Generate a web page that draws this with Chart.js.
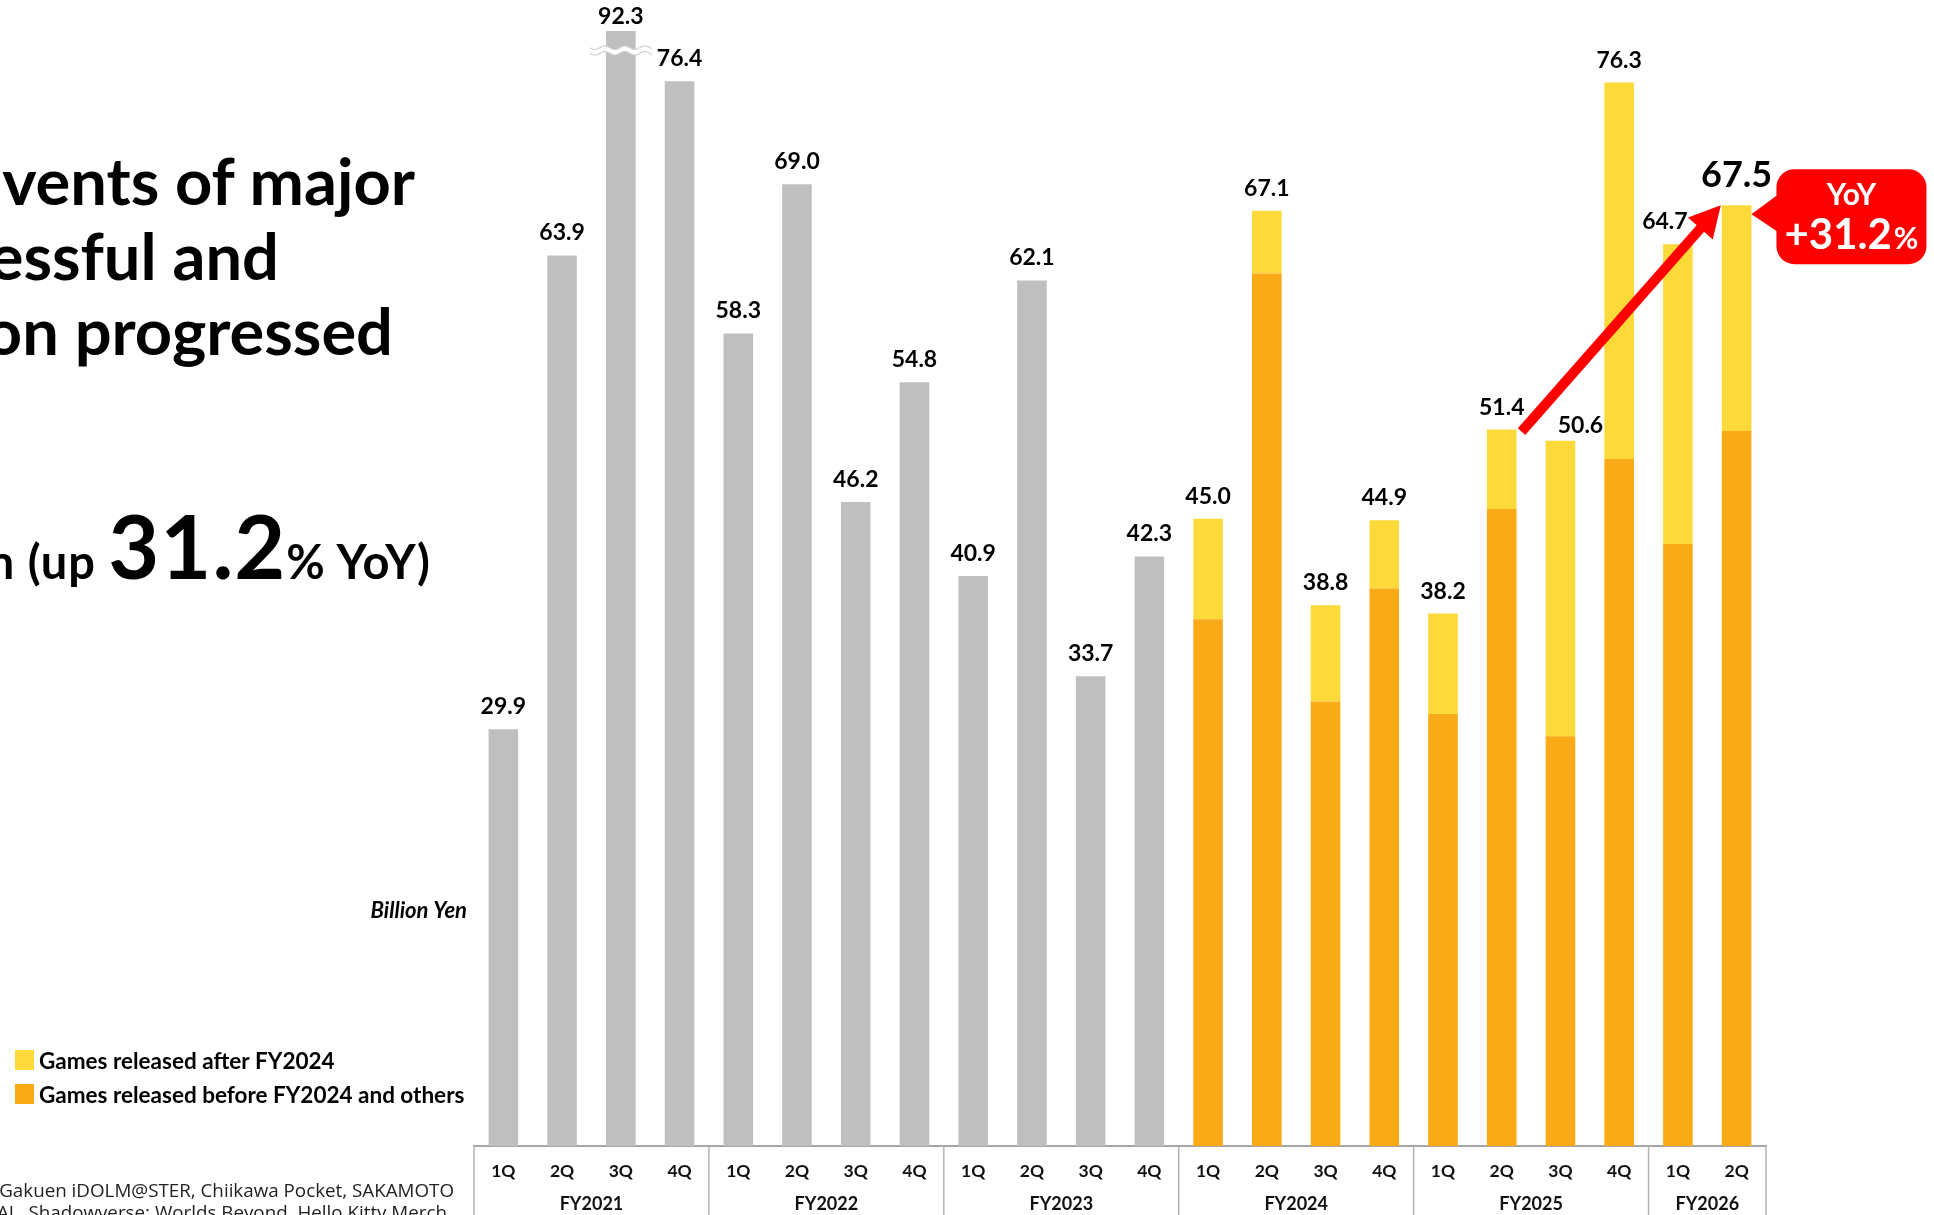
<!DOCTYPE html>
<html>
<head>
<meta charset="utf-8">
<title>Quarterly sales</title>
<script src="https://cdn.jsdelivr.net/npm/chart.js@4.4.1/dist/chart.umd.min.js"></script>
<style>
  html, body { margin: 0; padding: 0; background: #fff; overflow: hidden; }
  #wrap { position: relative; width: 1934px; height: 1215px; }
  #salesChart { position: absolute; left: 0; top: 0; }
  .head {
    position: absolute;
    white-space: nowrap;
    font-family: Lato, sans-serif;
    font-weight: 700;
    color: #000;
    text-align: right;
  }
  .big-line { font-size: 65px; line-height: 65px; right: 1519px; }
  .yoy-line { font-size: 88px; line-height: 88px; right: 1503px; top: 501px; letter-spacing: 1px; }
  .yoy-line .sm { font-size: 47px; letter-spacing: 1px; }
  .note {
    position: absolute;
    white-space: nowrap;
    font-family: "Open Sans", sans-serif;
    font-size: 18.8px;
    line-height: 22px;
    color: #222;
    text-align: right;
  }
</style>
</head>
<body>
<div id="wrap">
  <canvas id="salesChart"></canvas>
  <div class="head big-line" style="top:148px">vents of major</div>
  <div class="head big-line" style="top:223px;right:1655px">essful and</div>
  <div class="head big-line" style="top:298px;right:1541px">on progressed</div>
  <div class="head yoy-line"><span class="sm">n (up </span>31.2<span class="sm">% YoY)</span></div>
  <div class="note" style="top:1179px;right:1480px">Gakuen iDOLM@STER, Chiikawa Pocket, SAKAMOTO</div>
  <div class="note" style="top:1201px;right:1487px">IAL, Shadowverse: Worlds Beyond, Hello Kitty Merch</div>
</div>
<script>
const quarters = ["1Q", "2Q", "3Q", "4Q", "1Q", "2Q", "3Q", "4Q", "1Q", "2Q", "3Q",
  "4Q", "1Q", "2Q", "3Q", "4Q", "1Q", "2Q", "3Q", "4Q", "1Q", "2Q"];
const fiscalYears = ["FY2021", "FY2022", "FY2023", "FY2024", "FY2025", "FY2026"];
const quartersPerYear = [4, 4, 4, 4, 4, 2];

// total sales per quarter, billion yen
const totalSales = [29.9, 63.9, 92.3, 76.4, 58.3, 69.0, 46.2, 54.8, 40.9, 62.1, 33.7,
  42.3, 45.0, 67.1, 38.8, 44.9, 38.2, 51.4, 50.6, 76.3, 64.7, 67.5];
// part coming from games released before FY2024 (split starts in FY2024)
const olderTitles = [null, null, null, null, null, null, null, null, null, null, null,
  null, 37.8, 62.6, 31.9, 40.0, 31.0, 45.7, 29.4, 49.3, 43.2, 51.3];

const GRAY = "#bfbfbf";
const YELLOW = "#fdd93a";
const ORANGE = "#fbaa17";
const RED = "#ff0000";

const unsplit = totalSales.map((v, i) => (olderTitles[i] == null ? v : null));
const newerTitles = totalSales.map((v, i) =>
  olderTitles[i] == null ? null : Math.round((v - olderTitles[i]) * 10) / 10);

// a few labels sit off their usual spot so the arrow doesn't cover them
const labelNudge = { 18: { dx: 20, dy: 8 }, 20: { dx: -13, dy: 15 } };

function stackTop(chart, i) {
  const ds = olderTitles[i] == null ? 0 : 2;
  return chart.getDatasetMeta(ds).data[i];
}

function wavePath(ctx, x0, x1, yc, amp, period) {
  ctx.beginPath();
  for (let px = x0; px <= x1; px += 1) {
    const py = yc + amp * Math.sin(((px - x0) / period) * 2 * Math.PI);
    if (px === x0) ctx.moveTo(px, py);
    else ctx.lineTo(px, py);
  }
}

function roundRect(ctx, x, y, w, h, r) {
  ctx.beginPath();
  ctx.moveTo(x + r, y);
  ctx.arcTo(x + w, y, x + w, y + h, r);
  ctx.arcTo(x + w, y + h, x, y + h, r);
  ctx.arcTo(x, y + h, x, y, r);
  ctx.arcTo(x, y, x + w, y, r);
  ctx.closePath();
}

const extras = {
  id: "extras",
  afterDatasetsDraw(chart) {
    const { ctx, chartArea, scales } = chart;
    const x = scales.x;
    ctx.save();

    // break mark on the bar that runs past the top
    const tall = stackTop(chart, 2);
    const wy = chartArea.top + 19.5;
    ctx.lineWidth = 5;
    ctx.strokeStyle = "#fff";
    wavePath(ctx, tall.x - 31, tall.x + 31, wy, 1.8, 20);
    ctx.stroke();
    ctx.lineWidth = 1.2;
    ctx.strokeStyle = "#cfcfcf";
    wavePath(ctx, tall.x - 31, tall.x + 31, wy - 2.8, 1.8, 20);
    ctx.stroke();
    wavePath(ctx, tall.x - 31, tall.x + 31, wy + 2.8, 1.8, 20);
    ctx.stroke();

    // value labels above each stack
    ctx.fillStyle = "#000";
    ctx.textAlign = "center";
    ctx.textBaseline = "alphabetic";
    const last = totalSales.length - 1;
    totalSales.forEach((v, i) => {
      const bar = stackTop(chart, i);
      const top = Math.max(bar.y, chartArea.top + 8);
      const big = i === last;
      const nudge = labelNudge[i] || { dx: 0, dy: big ? 18 : 15 };
      ctx.font = big ? "700 36px Lato" : "700 23px Lato";
      ctx.fillText(v.toFixed(1), bar.x + nudge.dx, top - nudge.dy);
    });

    // year-over-year arrow
    const from = stackTop(chart, 17);
    const to = stackTop(chart, last);
    const tail = { x: from.x + from.width / 2 + 5, y: from.y + 2 };
    const tip = { x: to.x - to.width / 2 - 1, y: to.y };
    const len = Math.hypot(tip.x - tail.x, tip.y - tail.y);
    const ux = (tip.x - tail.x) / len, uy = (tip.y - tail.y) / len;
    const headLen = 31, headHalf = 16.5;
    const bx = tip.x - ux * headLen, by = tip.y - uy * headLen;
    ctx.strokeStyle = RED;
    ctx.lineWidth = 10;
    ctx.lineCap = "butt";
    ctx.beginPath();
    ctx.moveTo(tail.x, tail.y);
    ctx.lineTo(bx + ux * 2, by + uy * 2);
    ctx.stroke();
    ctx.fillStyle = RED;
    ctx.beginPath();
    ctx.moveTo(tip.x, tip.y);
    ctx.lineTo(bx - uy * headHalf, by + ux * headHalf);
    ctx.lineTo(bx + uy * headHalf, by - ux * headHalf);
    ctx.closePath();
    ctx.fill();

    // YoY callout
    const rx = to.x + to.width / 2;
    const boxX = rx + 25, boxY = to.y - 36, boxW = 150, boxH = 95;
    roundRect(ctx, boxX, boxY, boxW, boxH, 18);
    ctx.fill();
    ctx.beginPath();
    ctx.moveTo(rx, to.y + 9);
    ctx.lineTo(boxX + 2, to.y - 11);
    ctx.lineTo(boxX + 2, to.y + 27);
    ctx.closePath();
    ctx.fill();
    ctx.fillStyle = "#fff";
    ctx.textAlign = "center";
    ctx.font = "700 30px Lato";
    ctx.fillText("YoY", boxX + boxW / 2, boxY + 36);
    ctx.font = "700 42px Lato";
    const w1 = ctx.measureText("+31.2").width;
    ctx.font = "700 30px Lato";
    const w2 = ctx.measureText("%").width;
    const sx = boxX + boxW / 2 - (w1 + w2 + 2) / 2;
    ctx.textAlign = "left";
    ctx.font = "700 42px Lato";
    ctx.fillText("+31.2", sx, boxY + 80);
    ctx.font = "700 30px Lato";
    ctx.fillText("%", sx + w1 + 2, boxY + 80);

    // fiscal year boxes under the quarter labels
    const step = x.width / quarters.length;
    ctx.strokeStyle = "#b3b3b3";
    ctx.lineWidth = 1.5;
    ctx.fillStyle = "#111";
    ctx.textAlign = "center";
    ctx.font = "700 18px Lato";
    let start = 0;
    fiscalYears.forEach((fy, k) => {
      const left = x.getPixelForValue(start) - step / 2;
      const right = x.getPixelForValue(start + quartersPerYear[k] - 1) + step / 2;
      ctx.beginPath();
      ctx.moveTo(left, x.top);
      ctx.lineTo(left, chart.height);
      if (k === fiscalYears.length - 1) {
        ctx.moveTo(right, x.top);
        ctx.lineTo(right, chart.height);
      }
      ctx.stroke();
      ctx.fillText(fy, (left + right) / 2, x.top + 64);
      start += quartersPerYear[k];
    });

    // unit and legend
    ctx.textAlign = "right";
    ctx.font = "italic 700 22px Lato";
    ctx.fillStyle = "#000";
    ctx.fillText("Billion Yen", 467, 918);

    const items = [chart.data.datasets[2], chart.data.datasets[1]];
    ctx.textAlign = "left";
    ctx.font = "700 22.5px Lato";
    items.forEach((ds, k) => {
      const ly = 1050 + k * 34;
      ctx.fillStyle = ds.backgroundColor;
      ctx.fillRect(15, ly, 19, 20);
      ctx.fillStyle = "#000";
      ctx.fillText(ds.label, 39, ly + 19);
    });
    ctx.restore();
  }
};

new Chart(document.getElementById("salesChart"), {
  type: "bar",
  data: {
    labels: quarters,
    datasets: [
      { label: "Total", data: unsplit, backgroundColor: GRAY, clip: 0 },
      { label: "Games released before FY2024 and others", data: olderTitles, backgroundColor: ORANGE, clip: 0 },
      { label: "Games released after FY2024", data: newerTitles, backgroundColor: YELLOW, clip: 0 }
    ]
  },
  options: {
    responsive: true,
    maintainAspectRatio: false,
    animation: false,
    datasets: { bar: { categoryPercentage: 1, barPercentage: 0.504 } },
    layout: { padding: { left: 474, right: 168, top: 31, bottom: 0 } },
    plugins: { legend: { display: false }, tooltip: { enabled: false } },
    scales: {
      x: {
        stacked: true,
        grid: { display: false, drawTicks: false },
        border: { display: true, color: "#a6a6a6", width: 2 },
        ticks: {
          autoSkip: false,
          maxRotation: 0,
          padding: 15,
          color: "#111",
          font: { family: "Lato", size: 17.5, weight: "bold" }
        },
        afterFit(scale) { scale.height = 69; }
      },
      y: { stacked: true, display: false, min: 0, max: 80 }
    }
  },
  plugins: [extras]
});
</script>
</body>
</html>
